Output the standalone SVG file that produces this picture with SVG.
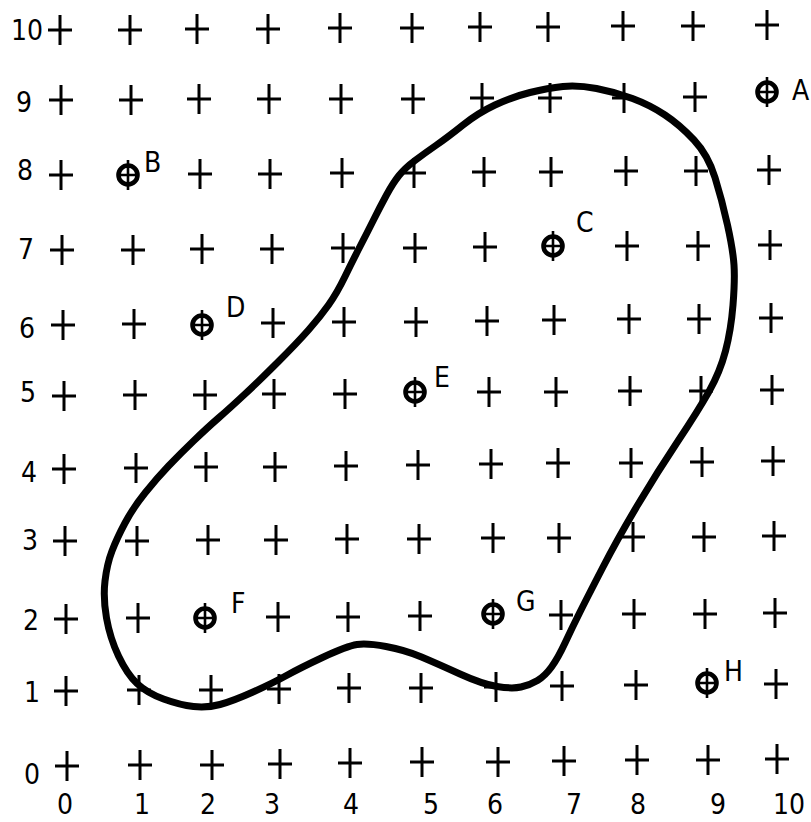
<svg xmlns="http://www.w3.org/2000/svg" xmlns:xlink="http://www.w3.org/1999/xlink" width="811" height="822" viewBox="0 0 811 822">
<style>
.cr{stroke:#000;stroke-width:3;fill:none}
.pt circle{fill:none;stroke:#000;stroke-width:4.6}
.pt path{stroke:#000;stroke-width:2.6;fill:none}
text{font-family:"DejaVu Sans Condensed","DejaVu Sans",sans-serif;font-stretch:condensed;font-size:28px;fill:#000}
.ax{text-anchor:middle}
.blob{fill:none;stroke:#000;stroke-width:7;stroke-linejoin:round}
</style>
<defs>
<path id="x" class="cr" d="M-12 0H12M0-15V15"/>
<g id="t" class="pt"><circle r="9.5"/><path d="M-9 0H9M0-15V15"/></g>
</defs>
<rect width="811" height="822" fill="#fff"/>
<g id="grid">
<use href="#x" x="60" y="30"/><use href="#x" x="130" y="30"/><use href="#x" x="197" y="29"/><use href="#x" x="268" y="29"/><use href="#x" x="340" y="28"/><use href="#x" x="412" y="28"/><use href="#x" x="480" y="27"/><use href="#x" x="548" y="27"/><use href="#x" x="623" y="26"/><use href="#x" x="693" y="26"/><use href="#x" x="767" y="25"/>
<use href="#x" x="61" y="100"/><use href="#x" x="131" y="100"/><use href="#x" x="199" y="99"/><use href="#x" x="269" y="99"/><use href="#x" x="341" y="99"/><use href="#x" x="413" y="99"/><use href="#x" x="482" y="98"/><use href="#x" x="550" y="98"/><use href="#x" x="624" y="98"/><use href="#x" x="695" y="97"/>
<use href="#x" x="61" y="175"/><use href="#x" x="200" y="174"/><use href="#x" x="270" y="174"/><use href="#x" x="342" y="173"/><use href="#x" x="414" y="173"/><use href="#x" x="484" y="172"/><use href="#x" x="551" y="172"/><use href="#x" x="626" y="171"/><use href="#x" x="696" y="171"/><use href="#x" x="769" y="170"/>
<use href="#x" x="62" y="250"/><use href="#x" x="133" y="250"/><use href="#x" x="202" y="249"/><use href="#x" x="272" y="249"/><use href="#x" x="343" y="248"/><use href="#x" x="415" y="248"/><use href="#x" x="485" y="247"/><use href="#x" x="627" y="246"/><use href="#x" x="698" y="246"/><use href="#x" x="770" y="245"/>
<use href="#x" x="63" y="325"/><use href="#x" x="134" y="324"/><use href="#x" x="273" y="323"/><use href="#x" x="344" y="322"/><use href="#x" x="416" y="322"/><use href="#x" x="487" y="321"/><use href="#x" x="554" y="320"/><use href="#x" x="629" y="319"/><use href="#x" x="699" y="319"/><use href="#x" x="771" y="318"/>
<use href="#x" x="64" y="396"/><use href="#x" x="135" y="395"/><use href="#x" x="205" y="395"/><use href="#x" x="274" y="394"/><use href="#x" x="345" y="394"/><use href="#x" x="489" y="392"/><use href="#x" x="556" y="392"/><use href="#x" x="630" y="391"/><use href="#x" x="701" y="391"/><use href="#x" x="772" y="390"/>
<use href="#x" x="64" y="469"/><use href="#x" x="136" y="468"/><use href="#x" x="206" y="467"/><use href="#x" x="275" y="467"/><use href="#x" x="346" y="466"/><use href="#x" x="418" y="465"/><use href="#x" x="491" y="464"/><use href="#x" x="558" y="463"/><use href="#x" x="631" y="463"/><use href="#x" x="702" y="462"/><use href="#x" x="773" y="461"/>
<use href="#x" x="65" y="541"/><use href="#x" x="137" y="541"/><use href="#x" x="208" y="540"/><use href="#x" x="276" y="540"/><use href="#x" x="347" y="539"/><use href="#x" x="419" y="539"/><use href="#x" x="493" y="538"/><use href="#x" x="559" y="538"/><use href="#x" x="633" y="537"/><use href="#x" x="704" y="537"/><use href="#x" x="774" y="536"/>
<use href="#x" x="66" y="619"/><use href="#x" x="138" y="618"/><use href="#x" x="278" y="617"/><use href="#x" x="348" y="617"/><use href="#x" x="420" y="616"/><use href="#x" x="561" y="615"/><use href="#x" x="634" y="614"/><use href="#x" x="705" y="614"/><use href="#x" x="775" y="613"/>
<use href="#x" x="66" y="691"/><use href="#x" x="139" y="690"/><use href="#x" x="211" y="690"/><use href="#x" x="279" y="689"/><use href="#x" x="349" y="688"/><use href="#x" x="421" y="688"/><use href="#x" x="496" y="687"/><use href="#x" x="562" y="686"/><use href="#x" x="636" y="685"/><use href="#x" x="776" y="684"/>
<use href="#x" x="67" y="766"/><use href="#x" x="140" y="765"/><use href="#x" x="212" y="765"/><use href="#x" x="280" y="764"/><use href="#x" x="350" y="763"/><use href="#x" x="422" y="762"/><use href="#x" x="498" y="762"/><use href="#x" x="564" y="761"/><use href="#x" x="637" y="760"/><use href="#x" x="708" y="760"/><use href="#x" x="777" y="759"/>
</g>
<g id="axis-labels" class="ax">
<text x="27" y="40">10</text><text x="24" y="112">9</text><text x="25" y="180">8</text><text x="26" y="259">7</text><text x="27" y="338">6</text><text x="28" y="402">5</text><text x="29" y="482">4</text><text x="30" y="550">3</text><text x="31" y="630">2</text><text x="32" y="702">1</text><text x="32" y="784">0</text>
<text x="65" y="814">0</text><text x="142" y="814">1</text><text x="208" y="814">2</text><text x="272" y="814">3</text><text x="351" y="814">4</text><text x="431" y="814">5</text><text x="495" y="814">6</text><text x="574" y="814">7</text><text x="638" y="814">8</text><text x="718" y="814">9</text><text x="789" y="814">10</text>
</g>
<g id="boundary">
<path class="blob" d="M563 86.5Q578 85 596.5 88.5Q615 92 632.5 98.5Q650 105 665 115Q680 125 694 140Q708 155 715 177.5Q722 200 727.5 225Q733 250 734 265Q735 280 733 305Q731 330 725.5 351Q720 372 709 391.5Q698 411 678 441Q658 471 638 504.5Q618 538 602.5 568Q587 598 579.5 613Q572 628 565 643Q558 658 551.5 667Q545 676 537.5 680.5Q530 685 521 687Q512 689 497 686.5Q482 684 460 674Q438 664 421.5 657Q405 650 386 646.5Q367 643 357 644.5Q347 646 323.5 657Q300 668 286.5 675.5Q273 683 253 692Q233 701 220 704.5Q207 708 193.5 706.5Q180 705 163.5 699Q147 693 137 683.5Q127 674 118.5 656Q110 638 106.5 618Q103 598 105 581Q107 564 112 551Q117 538 125 523Q133 508 145 493Q157 478 168.5 466Q180 454 193.5 441Q207 428 218.5 418Q230 408 245 394Q260 380 278.5 361.5Q297 343 308.5 330Q320 317 328.5 305Q337 293 345 276.5Q353 260 360 246.5Q367 233 373.5 220Q380 207 386.5 195Q393 183 399 175.5Q405 168 415 160.5Q425 153 436.5 145Q448 137 463 125Q478 113 495 105Q512 97 530 92.5Q548 88 563 86.5Z"/>
</g>
<g id="A"><use href="#t" x="767" y="92"/><text x="792" y="100">A</text></g>
<g id="B"><use href="#t" x="128" y="175"/><text x="144" y="172">B</text></g>
<g id="C"><use href="#t" x="553" y="246"/><text x="576" y="232">C</text></g>
<g id="D"><use href="#t" x="202" y="325"/><text x="226" y="317">D</text></g>
<g id="E"><use href="#t" x="415" y="392"/><text x="434" y="387">E</text></g>
<g id="F"><use href="#t" x="205" y="618"/><text x="231" y="613">F</text></g>
<g id="G"><use href="#t" x="493" y="614"/><text x="516" y="611">G</text></g>
<g id="H"><use href="#t" x="707" y="683"/><text x="724" y="681">H</text></g>
</svg>
